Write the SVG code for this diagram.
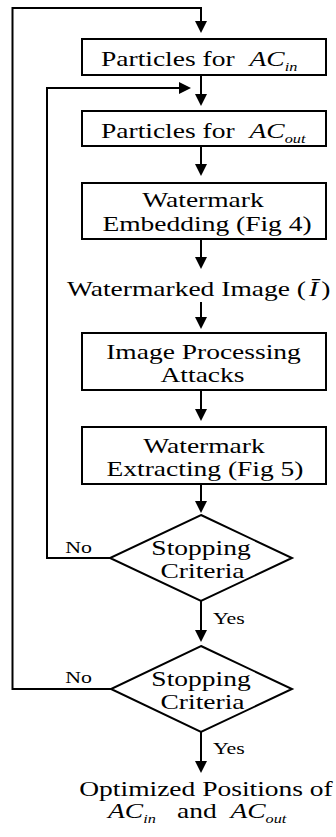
<svg xmlns="http://www.w3.org/2000/svg" width="336" height="837" viewBox="0 0 336 837">
<style>
.box{fill:#fff;stroke:#000;stroke-width:2}
.ln{fill:none;stroke:#000;stroke-width:2}
.t{font-family:"Liberation Serif","Times New Roman",serif;font-size:22px;fill:#000}
.m{text-anchor:middle}
.s{font-family:"Liberation Serif","Times New Roman",serif;font-size:17.5px;fill:#000}
.i{font-style:italic}
.sub{font-style:italic;font-size:13px}
</style>
<defs>
<marker id="ah" viewBox="0 0 12 12" refX="6" refY="6" markerWidth="12" markerHeight="12" markerUnits="userSpaceOnUse" orient="auto">
<path d="M0,0 L12,6 L0,12 z" fill="#000"/>
</marker>
</defs>
<rect width="336" height="837" fill="#fff"/>
<g id="connectors" class="ln" marker-end="url(#ah)">
<path d="M112,689 H12.5 V8 H201 V27"/>
<path d="M110,558 H47 V88 H185"/>
<path d="M201,75 V100"/>
<path d="M201,146 V170"/>
<path d="M201,239 V263"/>
<path d="M201,302 V323"/>
<path d="M201,390 V415"/>
<path d="M201,484 V507"/>
<path d="M201,601 V636"/>
<path d="M201,732 V767"/>
</g>
<g id="n1">
<rect class="box" x="82" y="39" width="244" height="36"/>
<text class="t" transform="translate(101,66) scale(1.25,1)">Particles for<tspan class="i" dx="12">AC</tspan><tspan class="sub" dy="5">in</tspan></text>
</g>
<g id="n2">
<rect class="box" x="82" y="111" width="244" height="35"/>
<text class="t" transform="translate(101,138) scale(1.25,1)">Particles for<tspan class="i" dx="12">AC</tspan><tspan class="sub" dy="5">out</tspan></text>
</g>
<g id="n3">
<rect class="box" x="82" y="183" width="244" height="56"/>
<text class="t m" transform="translate(203,207) scale(1.25,1)">Watermark</text>
<text class="t m" transform="translate(207,231) scale(1.25,1)">Embedding (Fig 4)</text>
</g>
<g id="n4">
<text class="t" transform="translate(67,296) scale(1.25,1)">Watermarked Image (<tspan class="i" dx="2.5">Ī</tspan><tspan dx="2.5">)</tspan></text>
</g>
<g id="n5">
<rect class="box" x="82" y="333" width="244" height="57"/>
<text class="t m" transform="translate(203.5,359) scale(1.25,1)">Image Processing</text>
<text class="t m" transform="translate(202.5,382) scale(1.25,1)">Attacks</text>
</g>
<g id="n6">
<rect class="box" x="82" y="427" width="244" height="57"/>
<text class="t m" transform="translate(204,453) scale(1.25,1)">Watermark</text>
<text class="t m" transform="translate(205,476) scale(1.25,1)">Extracting (Fig 5)</text>
</g>
<g id="d1">
<polygon class="box" points="201,515 292,558 201,601 110,558"/>
<text class="t m" transform="translate(201,555) scale(1.25,1)">Stopping</text>
<text class="t m" transform="translate(202.5,578) scale(1.25,1)">Criteria</text>
<text class="s m" transform="translate(78.5,553) scale(1.25,1)">No</text>
<text class="s" transform="translate(213,624) scale(1.25,1)">Yes</text>
</g>
<g id="d2">
<polygon class="box" points="201,646 292,689 201,732 111,689"/>
<text class="t m" transform="translate(201,686) scale(1.25,1)">Stopping</text>
<text class="t m" transform="translate(202.5,709) scale(1.25,1)">Criteria</text>
<text class="s m" transform="translate(78.5,683) scale(1.25,1)">No</text>
<text class="s" transform="translate(213,754) scale(1.25,1)">Yes</text>
</g>
<g id="n7">
<text class="t m" transform="translate(206,796) scale(1.25,1)">Optimized Positions of</text>
<text class="t" transform="translate(108,818) scale(1.25,1)"><tspan class="i">AC</tspan><tspan class="sub" dy="5">in</tspan><tspan dx="17" dy="-5">and</tspan><tspan class="i" dx="11">AC</tspan><tspan class="sub" dy="5">out</tspan></text>
</g>
</svg>
